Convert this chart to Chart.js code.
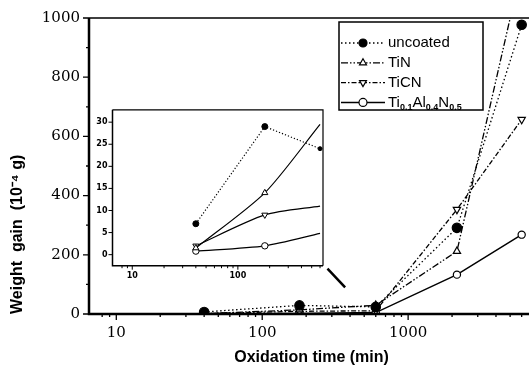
<!DOCTYPE html>
<html>
<head>
<meta charset="UTF-8">
<title>Weight gain vs oxidation time</title>
<style>
	body { margin: 0; background: #fff; overflow: hidden; }
	#wrap { position: relative; width: 529px; height: 372px; overflow: hidden; }
	#mainChart { position: absolute; left: 0; top: 0; }
	#insetChart { position: absolute; left: 90px; top: 100px; }
</style>
</head>
<body>
	<script src="https://cdn.jsdelivr.net/npm/chart.js"></script>

	<div id="wrap">
		<canvas id="mainChart" width="540" height="372"></canvas>
		<canvas id="insetChart" width="240" height="190"></canvas>
	</div>

	<script>
		// 데이터
		const times = [40, 180, 600, 2160, 6000];		// min
		const uncoated = [7, 29, 24, 291, 977];
		const tin = [1.5, 14, 29.5, 212, 1170];
		const ticn = [2, 9, 11, 353, 657];
		const tialn = [0.8, 2, 4.8, 133, 268];
		const seriesNames = ['uncoated', 'TiN', 'TiCN', 'Ti_{0.1}Al_{0.4}N_{0.5}'];
		const mainYTicks = [0, 200, 400, 600, 800, 1000];
		const insetYTicks = [0, 5, 10, 15, 20, 25, 30];
		const xTickLabels = [10, 100, 1000];
		const insetCount = 3;		// inset은 앞의 3개 점만

		// 선 / 마커 스타일
		const styles = [
			{dash: [1.5, 2.5], point: 'circle', rot: 0, fill: '#000', r: 4.7, ri: [3, 3, 2]},
			{dash: [7, 2, 1.5, 2, 1.5, 2], point: 'triangle', rot: 0, fill: '#fff', r: 4.2, ri: [3.5, 3.5, 0]},
			{dash: [5, 2, 1.5, 2], point: 'triangle', rot: 180, fill: '#fff', r: 4.2, ri: [3.5, 3.5, 0]},
			{dash: [], point: 'circle', rot: 0, fill: '#fff', r: 3.6, ri: [3.2, 3.2, 0]}
		];

		Chart.defaults.color = '#000';
		Chart.defaults.font.family = 'DejaVu Serif';

		// 아래첨자 텍스트 그리기 (Ti_{0.1} ...)
		function drawRich(ctx, text, x, y) {
			const parts = text.split(/_\{([^}]*)\}/);
			ctx.fillStyle = '#000';
			ctx.textBaseline = 'middle';
			ctx.textAlign = 'left';
			parts.forEach(function(p, k){
				if (k % 2) {
					ctx.font = 'bold 9px "Liberation Sans"';
					ctx.fillText(p, x, y + 5);
				} else {
					ctx.font = '15px "Liberation Sans"';
					ctx.fillText(p, x, y);
				}
				x += ctx.measureText(p).width;
			});
		}

		// x축 라벨 때문에 생기는 좌우 여백 제거
		function fitX(h) {
			return function(s){
				s.height = h;
				s.paddingLeft = 0;
				s.paddingRight = 0;
			};
		}

		// 눈금 + 테두리
		const axisMarks = {
			id: 'axisMarks',
			afterDraw(chart, args, o) {
				const ctx = chart.ctx, a = chart.chartArea;
				const xs = chart.scales.x, ys = chart.scales.y;
				ctx.save();
				ctx.strokeStyle = '#000';
				ctx.setLineDash([]);
				ctx.lineWidth = o.tickWidth;
				ctx.beginPath();
				xs.ticks.forEach(function(t){
					const e = Math.floor(Math.log10(t.value) + 1e-9);
					const m = t.value / Math.pow(10, e);
					if (Math.abs(m - Math.round(m)) > 1e-6) return;
					const px = xs.getPixelForValue(t.value);
					const len = Math.round(m) === 1 ? o.major : o.minor;
					ctx.moveTo(px, a.bottom);
					ctx.lineTo(px, a.bottom + len);
				});
				ys.ticks.forEach(function(t){
					const labelled = t.label !== '';
					if (!labelled && !o.yMinor) return;
					const py = ys.getPixelForValue(t.value);
					ctx.moveTo(a.left, py);
					ctx.lineTo(a.left - (labelled ? o.major : o.minor), py);
				});
				ctx.stroke();
				ctx.lineWidth = o.axisWidth;
				ctx.beginPath();
				ctx.moveTo(a.left, a.top);
				ctx.lineTo(a.left, a.bottom);
				ctx.lineTo(a.right, a.bottom);
				ctx.stroke();
				ctx.lineWidth = o.frameWidth;
				ctx.beginPath();
				ctx.moveTo(a.left, a.top);
				ctx.lineTo(a.right, a.top);
				ctx.lineTo(a.right, a.bottom);
				ctx.stroke();
				ctx.restore();
			}
		};

		// 범례 상자
		const boxLegend = {
			id: 'boxLegend',
			afterDraw(chart) {
				const ctx = chart.ctx, a = chart.chartArea;
				const bx = a.left + 250, by = a.top + 4, bw = 144, bh = 88;
				ctx.save();
				ctx.fillStyle = '#fff';
				ctx.fillRect(bx, by, bw, bh);
				ctx.strokeStyle = '#000';
				ctx.lineWidth = 1.5;
				ctx.strokeRect(bx, by, bw, bh);
				chart.data.datasets.forEach(function(ds, i){
					const y = by + 21 + i * 19.8;
					ctx.setLineDash(ds.borderDash);
					ctx.lineWidth = ds.borderWidth;
					ctx.beginPath();
					ctx.moveTo(bx + 2, y);
					ctx.lineTo(bx + 46, y);
					ctx.stroke();
					ctx.setLineDash([]);
					ctx.fillStyle = ds.pointBackgroundColor;
					ctx.lineWidth = 1.2;
					Chart.helpers.drawPoint(ctx, {pointStyle: ds.pointStyle, rotation: ds.pointRotation, radius: 4, borderWidth: 1.2}, bx + 24, y);
					drawRich(ctx, ds.label, bx + 49, y);
				});
				ctx.restore();
			}
		};

		// inset을 가리키는 화살표 (데이터 좌표)
		const arrowFrom = [280, 153], arrowTo = [370, 90];
		const pointer = {
			id: 'pointer',
			afterDraw(chart) {
				const ctx = chart.ctx, xs = chart.scales.x, ys = chart.scales.y;
				ctx.save();
				ctx.strokeStyle = '#000';
				ctx.lineWidth = 2.5;
				ctx.beginPath();
				ctx.moveTo(xs.getPixelForValue(arrowFrom[0]), ys.getPixelForValue(arrowFrom[1]));
				ctx.lineTo(xs.getPixelForValue(arrowTo[0]), ys.getPixelForValue(arrowTo[1]));
				ctx.stroke();
				ctx.restore();
			}
		};

		// 메인 차트
		const mainSets = [uncoated, tin, ticn, tialn].map(function(vals, i){
			return {
				label: seriesNames[i],
				data: times.map(function(t, j){ return {x: t, y: vals[j]}; }),
				borderColor: '#000',
				borderWidth: i === 3 ? 1.5 : 1.3,
				borderDash: styles[i].dash,
				pointStyle: styles[i].point,
				pointRotation: styles[i].rot,
				pointRadius: styles[i].r,
				pointBackgroundColor: styles[i].fill,
				pointBorderColor: '#000',
				pointBorderWidth: 1.2,
				tension: 0
			};
		});

		new Chart(document.getElementById('mainChart'), {
			type: 'line',
			data: { datasets: mainSets },
			options: {
				responsive: false,
				animation: false,
				events: [],
				// 오른쪽 테두리는 그림 밖으로 잘림
				layout: { padding: {top: 15, right: 5, left: 0, bottom: 0} },
				scales: {
					x: {
						type: 'logarithmic',
						min: 6.5,
						max: 7300,
						grid: { display: false, drawTicks: false },
						border: { display: false },
						afterFit: fitX(58),
						ticks: {
							autoSkip: false,
							maxRotation: 0,
							padding: 10,
							font: { family: 'DejaVu Serif', size: 15 },
							callback: function(v){ return xTickLabels.includes(v) ? String(v) : ''; }
						},
						title: {
							display: true,
							text: 'Oxidation time (min)',
							font: { family: 'Liberation Sans', size: 16, weight: 'bold' },
							padding: {top: 4, bottom: 5}
						}
					},
					y: {
						min: 0,
						max: 1000,
						grid: { display: false, drawTicks: false },
						border: { display: false },
						afterFit: function(s){ s.width = 89; },
						ticks: {
							stepSize: 100,
							autoSkip: false,
							padding: 9,
							font: { family: 'DejaVu Serif', size: 15 },
							callback: function(v){ return mainYTicks.includes(v) ? String(v) : ''; }
						},
						title: {
							display: true,
							text: 'Weight  gain  (10⁻⁴ g)',
							align: 'start',
							font: { family: 'Liberation Sans', size: 16, weight: 'bold' },
							padding: {top: 8, bottom: 0}
						}
					}
				},
				plugins: {
					legend: { display: false },
					tooltip: { enabled: false },
					axisMarks: { tickWidth: 1.3, major: 6, minor: 3, yMinor: true, axisWidth: 2.5, frameWidth: 1.6 }
				}
			},
			plugins: [axisMarks, pointer, boxLegend]
		});

		// inset 차트 (40 ~ 600 min 확대)
		const insetSets = [uncoated, tin, ticn, tialn].map(function(vals, i){
			return {
				label: seriesNames[i],
				data: times.slice(0, insetCount).map(function(t, j){ return {x: t, y: vals[j]}; }),
				borderColor: '#000',
				borderWidth: 1.2,
				borderDash: i === 0 ? [1.2, 2] : [],
				pointStyle: styles[i].point,
				pointRotation: styles[i].rot,
				pointRadius: styles[i].ri,
				pointBackgroundColor: styles[i].fill,
				pointBorderColor: '#000',
				pointBorderWidth: 1,
				tension: i === 0 ? 0 : 0.25
			};
		});

		new Chart(document.getElementById('insetChart'), {
			type: 'line',
			data: { datasets: insetSets },
			options: {
				responsive: false,
				animation: false,
				events: [],
				layout: { padding: {top: 6.7, right: 7, left: 0, bottom: 0} },
				scales: {
					x: {
						type: 'logarithmic',
						min: 6.5,
						max: 640,
						grid: { display: false, drawTicks: false },
						border: { display: false },
						afterFit: fitX(24.3),
						ticks: {
							autoSkip: false,
							maxRotation: 0,
							padding: 5,
							font: { family: 'DejaVu Sans', size: 8, weight: 'bold' },
							callback: function(v){ return xTickLabels.includes(v) ? String(v) : ''; }
						}
					},
					y: {
						min: -2.5,
						max: 32.8,
						grid: { display: false, drawTicks: false },
						border: { display: false },
						afterFit: function(s){ s.width = 22.5; },
						ticks: {
							stepSize: 5,
							includeBounds: false,
							autoSkip: false,
							padding: 5,
							font: { family: 'DejaVu Sans', size: 8, weight: 'bold' },
							callback: function(v){ return insetYTicks.includes(v) ? String(v) : ''; }
						}
					}
				},
				plugins: {
					legend: { display: false },
					tooltip: { enabled: false },
					axisMarks: { tickWidth: 1, major: 4, minor: 2.5, yMinor: false, axisWidth: 1.5, frameWidth: 1.2 }
				}
			},
			plugins: [axisMarks]
		});
	</script>
</body>
</html>
